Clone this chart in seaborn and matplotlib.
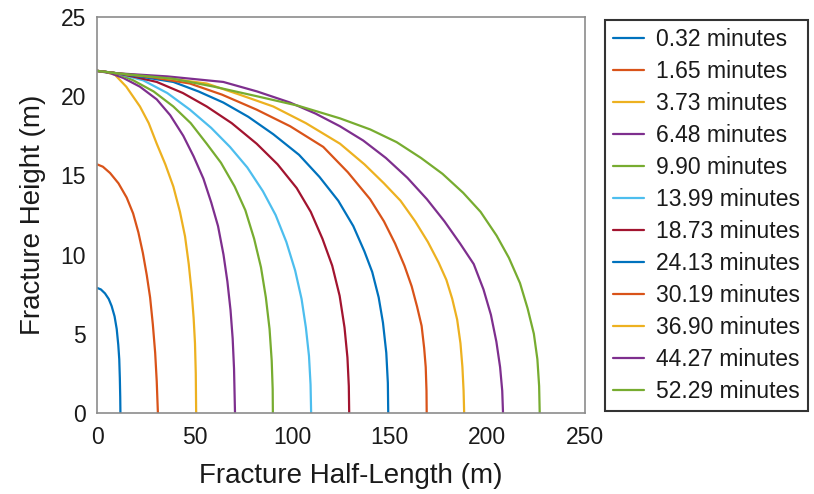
import matplotlib
matplotlib.use("Agg")
import matplotlib.pyplot as plt
import seaborn as sns
import pandas as pd

labels = ["0.32 minutes", "1.65 minutes", "3.73 minutes", "6.48 minutes",
          "9.90 minutes", "13.99 minutes", "18.73 minutes", "24.13 minutes",
          "30.19 minutes", "36.90 minutes", "44.27 minutes", "52.29 minutes"]

x_032 = [0, 2, 4.1, 6, 7.5, 9, 10.1, 10.9, 11.4, 11.7, 11.9, 12.0]
y_032 = [7.9, 7.8, 7.55, 7.2, 6.75, 6.1, 5.3, 4.3, 3.4, 2.2, 1.0, 0]
x_165 = [0, 3, 6.7, 11, 15.2, 18.5, 21.2, 23.5, 25.5, 27.2, 28.6, 29.8, 30.6, 31.2]
y_165 = [15.7, 15.55, 15.15, 14.5, 13.6, 12.6, 11.4, 10.1, 8.7, 7.3, 5.6, 3.8, 2.0, 0]
x_373 = [0, 4, 9.2, 15, 22, 26.5, 30.6, 35, 39.1, 42.5, 45.1, 47, 48.5, 49.5, 50.2, 50.6, 50.8]
y_373 = [21.6, 21.55, 21.35, 20.6, 19.35, 18.3, 17.0, 15.7, 14.3, 12.7, 11.15, 9.4, 7.6, 6.0, 4.4, 2.5, 0]
x_648 = [0, 7, 13.5, 22, 30.6, 37.5, 44.2, 49.5, 54.5, 58.5, 62, 64.8, 66.8, 68.4, 69.5, 70.2, 70.7]
y_648 = [21.6, 21.45, 21.15, 20.6, 19.8, 18.8, 17.5, 16.2, 14.8, 13.3, 11.8, 10.0, 8.3, 6.5, 4.7, 2.8, 0]
x_990 = [0, 10, 18.6, 29, 39.1, 48, 56.2, 63.5, 70.5, 76, 80.5, 84, 86.5, 88.4, 89.5, 90.0, 90.1]
y_990 = [21.6, 21.45, 21.0, 20.3, 19.35, 18.3, 17.0, 15.8, 14.3, 12.8, 11.0, 9.2, 7.3, 5.3, 3.3, 1.5, 0]
x_1399 = [0, 10, 23.7, 36, 47.6, 58.5, 68.1, 77, 85, 91.5, 97, 101.5, 104.8, 107, 108.6, 109.4, 109.7]
y_1399 = [21.6, 21.45, 21.0, 20.2, 19.15, 18.0, 16.8, 15.5, 14.0, 12.5, 10.8, 9.0, 7.2, 5.4, 3.6, 1.8, 0]
x_1873 = [0, 10, 20, 30.6, 44, 56.2, 69, 81.8, 92.5, 102.3, 109.5, 115.5, 120.5, 124.3, 126.8, 128.3, 129.0, 129.2]
y_1873 = [21.6, 21.45, 21.2, 20.9, 20.2, 19.35, 18.3, 17.0, 15.7, 14.2, 12.7, 11.0, 9.3, 7.4, 5.4, 3.5, 1.7, 0]
x_2413 = [0, 10, 24, 39.1, 52, 64.7, 77.5, 90.3, 103.5, 114, 123.6, 131.3, 137, 141, 144.3, 146.5, 148.2, 149.0, 149.2]
y_2413 = [21.6, 21.45, 21.2, 20.9, 20.3, 19.6, 18.7, 17.6, 16.3, 14.9, 13.4, 11.8, 10.2, 8.9, 7.3, 5.7, 3.8, 1.9, 0]
x_3019 = [0, 10, 28, 47.6, 64, 81.8, 99, 115.9, 128.5, 139.9, 147, 152.7, 157.5, 161.2, 164, 166.3, 167.6, 168.4, 168.8, 168.9]
y_3019 = [21.6, 21.45, 21.2, 20.8, 20.1, 19.15, 18.1, 16.8, 15.2, 13.5, 12.1, 10.7, 9.3, 8.0, 6.7, 5.5, 4.1, 2.9, 1.4, 0]
x_3690 = [0, 10, 32, 56.2, 73, 90.3, 107, 124.5, 137, 147, 155.5, 163, 169.5, 175, 179, 182, 184.5, 186.2, 187.2, 187.8, 188.1]
y_3690 = [21.6, 21.45, 21.2, 20.8, 20.1, 19.35, 18.3, 17.0, 15.7, 14.5, 13.4, 12.1, 10.8, 9.5, 8.4, 7.2, 5.9, 4.4, 2.9, 1.4, 0]
x_4427 = [0, 10, 36, 64.7, 82, 98.9, 112, 124.5, 136.4, 148, 159, 169, 178, 186, 193, 198, 201.8, 204.6, 206.5, 207.6, 208.0]
y_4427 = [21.6, 21.45, 21.25, 20.9, 20.3, 19.6, 18.9, 18.1, 17.2, 16.1, 14.85, 13.5, 12.1, 10.7, 9.4, 7.8, 6.2, 4.5, 2.9, 1.4, 0]
x_5229 = [0, 10, 39.1, 60, 81.8, 103, 124.5, 140, 153.5, 166, 177, 187.6, 196.5, 204.7, 211, 216.7, 220.6, 223.8, 225.6, 226.5, 226.8]
y_5229 = [21.6, 21.45, 21.1, 20.6, 20.0, 19.4, 18.6, 17.9, 17.1, 16.1, 15.1, 13.9, 12.7, 11.2, 9.8, 8.2, 6.6, 5.0, 3.4, 1.7, 0]

xs = [x_032, x_165, x_373, x_648, x_990, x_1399, x_1873, x_2413, x_3019, x_3690, x_4427, x_5229]
ys = [y_032, y_165, y_373, y_648, y_990, y_1399, y_1873, y_2413, y_3019, y_3690, y_4427, y_5229]

xticks = [0, 50, 100, 150, 200, 250]
yticks = [0, 5, 10, 15, 20, 25]

base = ["#0072BD", "#D95319", "#EDB120", "#7E2F8E", "#77AC30", "#4DBEEE", "#A2142F"]
palette = {lab: base[i % 7] for i, lab in enumerate(labels)}

rows = []
for lab, xv, yv in zip(labels, xs, ys):
    for a, b in zip(xv, yv):
        rows.append({"x": a, "y": b, "series": lab})
df = pd.DataFrame(rows)

sns.set_theme(style="white")
plt.rcParams["font.family"] = ["Liberation Sans", "DejaVu Sans"]

fig = plt.figure(figsize=(8.14, 4.94), dpi=100)
ax = fig.add_axes([97 / 814, 1 - 413 / 494, 488 / 814, 396 / 494])

sns.lineplot(data=df, x="x", y="y", hue="series", hue_order=labels, palette=palette,
             sort=False, estimator=None, units="series", linewidth=1.6, ax=ax, legend=True)

ax.set_xlim(0, 250)
ax.set_ylim(0, 25)
ax.set_xticks(xticks)
ax.set_yticks(yticks)
ax.set_xlabel("Fracture Half-Length (m)", fontsize=20, color="#1a1a1a")
ax.set_ylabel("Fracture Height (m)", fontsize=20, color="#1a1a1a", labelpad=10)
ax.xaxis.set_label_coords(0.52, -0.125)
ax.tick_params(axis="both", labelsize=16.5, colors="#1a1a1a", direction="out",
               length=4, width=1, color="#808080")
ax.tick_params(axis="x", pad=5)
ax.tick_params(axis="y", pad=4)
for s in ax.spines.values():
    s.set_color("#8c8c8c")
    s.set_linewidth(1.2)

handles, labs = ax.get_legend_handles_labels()
if ax.legend_:
    ax.legend_.remove()
leg = fig.legend(handles, labs, loc="upper left", bbox_to_anchor=(605 / 814, 1 - 20 / 494),
                 frameon=True, fancybox=False, fontsize=16.5, handlelength=1.35,
                 handletextpad=0.52, labelspacing=0.39, borderpad=0.36, borderaxespad=0)
leg.get_frame().set_edgecolor("black")
leg.get_frame().set_linewidth(1.5)
for t in leg.get_texts():
    t.set_color("#1a1a1a")
for h in leg.get_lines():
    h.set_linewidth(1.6)

fig.savefig("out.png", dpi=100)
